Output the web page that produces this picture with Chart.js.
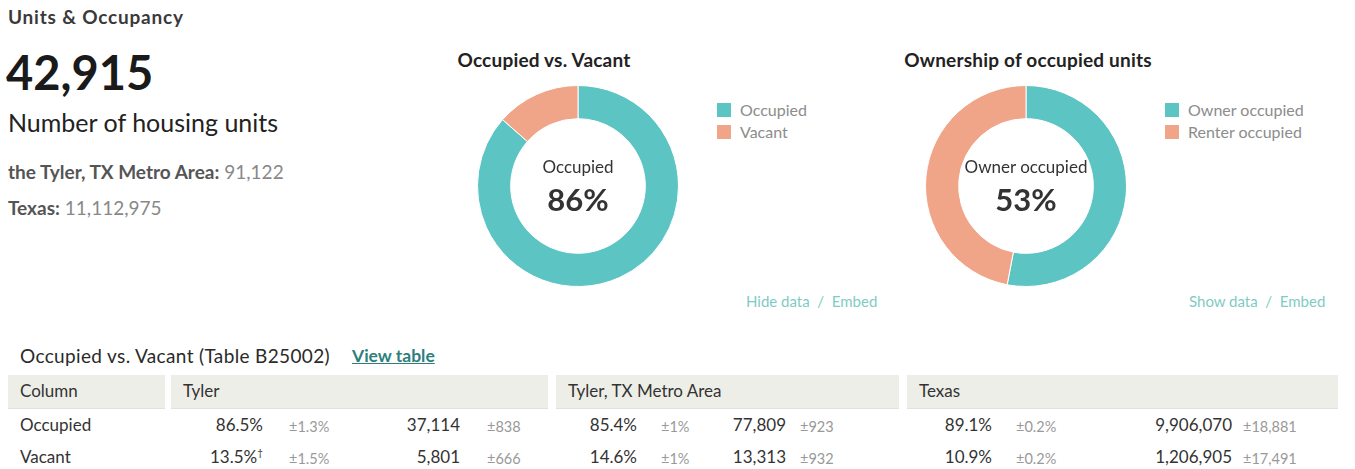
<!DOCTYPE html>
<html lang="en">
<head>
<meta charset="utf-8" />
<title>Units & Occupancy</title>
<style>
  body { margin: 0; width: 1355px; height: 469px; background: #fff; font-family: Lato, "Open Sans", sans-serif; color: #333; position: relative; overflow: hidden; }
  .abs { position: absolute; white-space: nowrap; }
  .section-title { left: 8px; top: 5px; font-size: 19px; letter-spacing: 0.8px; font-weight: 700; color: #3a3a3a; }
  .big-num { left: 6px; top: 44px; font-size: 47px; font-weight: 700; color: #1a1a1a; }
  .big-lbl { left: 8px; top: 107px; font-size: 25px; color: #222; }
  .cmp { left: 8px; font-size: 19px; color: #888; }
  .cmp b { color: #555; font-weight: 700; }
  .chart-title { font-size: 19px; letter-spacing: 0.2px; font-weight: 700; color: #222; transform: translateX(-50%); }
  .chart-box { position: absolute; }
  .center-lbl { text-align: center; transform: translateX(-50%); color: #333; }
  .legend { font-size: 16px; color: #8c8c8c; }
  .legend div { height: 22px; line-height: 14px; }
  .legend span.sw { display: inline-block; width: 14px; height: 14px; vertical-align: top; margin-right: 9px; }
  .links { font-size: 15px; color: #7fcbc4; }
  .tbl-title { left: 20px; top: 344px; font-size: 19px; letter-spacing: 0.35px; color: #2a2a2a; }
  .tbl-link { left: 352px; top: 345px; font-size: 17.5px; font-weight: 700; color: #2e7f7c; text-decoration: underline; }
  .th { top: 375px; height: 33px; background: #eeeee8; border-bottom: 1px solid #e2e2da; font-size: 17px; line-height: 31px; color: #333; }
  .cell { font-size: 17px; color: #333; transform: translateX(-100%); }
  .moe { font-size: 14.5px; color: #999; }
</style>
</head>
<body>
<div class="abs section-title">Units &amp; Occupancy</div>
<div class="abs big-num">42,915</div>
<div class="abs big-lbl">Number of housing units</div>
<div class="abs cmp" style="top:160px"><b>the Tyler, TX Metro Area:</b> 91,122</div>
<div class="abs cmp" style="top:196px"><b>Texas:</b> 11,112,975</div>

<div class="abs chart-title" style="left:544px; top:48px">Occupied vs. Vacant</div>
<canvas id="occChart" class="chart-box" width="202" height="202" style="left:477px; top:85px; width:202px; height:202px"></canvas>
<div id="occCenter" class="abs center-lbl" style="left:578px; top:156px"></div>
<div id="occLegend" class="abs legend" style="left:717px; top:103px"></div>
<div class="abs links" style="left:746px; top:292px">Hide data&nbsp; / &nbsp;Embed</div>

<div class="abs chart-title" style="left:1028px; top:48px">Ownership of occupied units</div>
<canvas id="ownChart" class="chart-box" width="202" height="202" style="left:925px; top:85px; width:202px; height:202px"></canvas>
<div id="ownCenter" class="abs center-lbl" style="left:1026px; top:156px"></div>
<div id="ownLegend" class="abs legend" style="left:1165px; top:103px"></div>
<div class="abs links" style="left:1189px; top:292px">Show data&nbsp; / &nbsp;Embed</div>

<div class="abs tbl-title">Occupied vs. Vacant (Table B25002)</div>
<div class="abs tbl-link">View table</div>
<div id="tbl"></div>

<script src="https://cdn.jsdelivr.net/npm/chart.js"></script>
<script>
  // donut data
  const occLabels = ["Occupied", "Vacant"];
  const occValues = [37114, 5801];
  const ownLabels = ["Owner occupied", "Renter occupied"];
  const ownValues = [53, 47];
  const sliceColors = ["#5cc4c3", "#f0a589"];

  // table data
  const rowLabels = ["Occupied", "Vacant"];
  const geoNames = ["Tyler", "Tyler, TX Metro Area", "Texas"];
  const tylerPct = ["86.5%", "13.5%†"];
  const tylerPctMoe = ["±1.3%", "±1.5%"];
  const tylerCount = ["37,114", "5,801"];
  const tylerCountMoe = ["±838", "±666"];
  const metroPct = ["85.4%", "14.6%"];
  const metroPctMoe = ["±1%", "±1%"];
  const metroCount = ["77,809", "13,313"];
  const metroCountMoe = ["±923", "±932"];
  const texasPct = ["89.1%", "10.9%"];
  const texasPctMoe = ["±0.2%", "±0.2%"];
  const texasCount = ["9,906,070", "1,206,905"];
  const texasCountMoe = ["±18,881", "±17,491"];

  function donut(id, labels, values, centerId, legendId) {
    new Chart(document.getElementById(id), {
      type: "doughnut",
      data: {
        labels: labels,
        datasets: [{
          data: values,
          backgroundColor: sliceColors,
          borderColor: "#ffffff",
          borderWidth: 1,
        }],
      },
      options: {
        responsive: false,
        animation: false,
        cutout: "67%",
        plugins: { legend: { display: false }, tooltip: { enabled: false } },
      },
    });
    const total = values.reduce((a, b) => a + b, 0);
    const pct = Math.round((values[0] / total) * 100);
    document.getElementById(centerId).innerHTML =
      `<div style="font-size:17px;line-height:22px">${labels[0]}</div>` +
      `<div style="font-size:31px;font-weight:700;line-height:40px;margin-top:1px">${pct}%</div>`;
    document.getElementById(legendId).innerHTML = labels
      .map((l, i) => `<div><span class="sw" style="background:${sliceColors[i]}"></span>${l}</div>`)
      .join("");
  }

  donut("occChart", occLabels, occValues, "occCenter", "occLegend");
  donut("ownChart", ownLabels, ownValues, "ownCenter", "ownLegend");

  // table layout
  const headCells = [[8, 157, "Column"], [171, 377, geoNames[0]], [556, 343, geoNames[1]], [907, 431, geoNames[2]]];
  const geoCols = [
    { pct: tylerPct, pm: tylerPctMoe, cnt: tylerCount, cm: tylerCountMoe, x: [263, 289, 460, 487] },
    { pct: metroPct, pm: metroPctMoe, cnt: metroCount, cm: metroCountMoe, x: [637, 661, 786, 800] },
    { pct: texasPct, pm: texasPctMoe, cnt: texasCount, cm: texasCountMoe, x: [992, 1016, 1232, 1243] },
  ];
  const rowTops = [414, 446];
  let html = "";
  headCells.forEach(([x, w, t]) => {
    html += `<div class="abs th" style="left:${x}px;width:${w - 12}px;padding-left:12px">${t}</div>`;
  });
  rowLabels.forEach((r, i) => {
    const y = rowTops[i];
    html += `<div class="abs" style="left:20px;top:${y}px;font-size:17px;color:#333">${r}</div>`;
    geoCols.forEach((g) => {
      let p = g.pct[i];
      if (p.endsWith("†")) p = p.slice(0, -1) + '<sup style="font-size:10px">†</sup>';
      html += `<div class="abs cell" style="left:${g.x[0]}px;top:${y}px">${p}</div>`;
      html += `<div class="abs moe" style="left:${g.x[1]}px;top:${y + 4}px">${g.pm[i]}</div>`;
      html += `<div class="abs cell" style="left:${g.x[2]}px;top:${y}px">${g.cnt[i]}</div>`;
      html += `<div class="abs moe" style="left:${g.x[3]}px;top:${y + 4}px">${g.cm[i]}</div>`;
    });
  });
  document.getElementById("tbl").innerHTML = html;
</script>
</body>
</html>
